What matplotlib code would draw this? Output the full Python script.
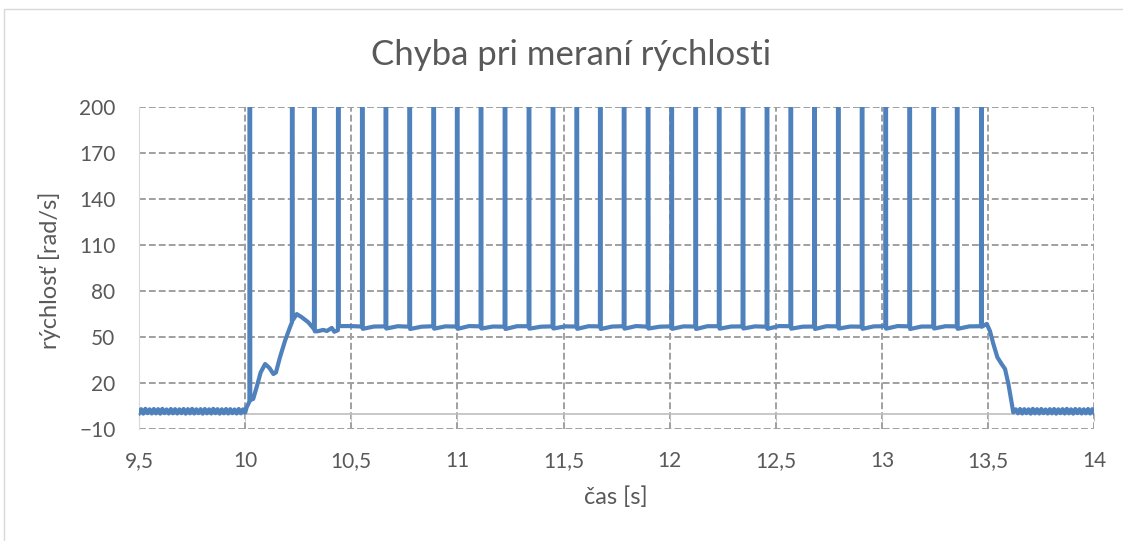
import numpy as np
import matplotlib
matplotlib.use('Agg')
import matplotlib.pyplot as plt
from matplotlib.ticker import FuncFormatter
from matplotlib.patches import Rectangle

plt.rcParams['font.family'] = ['Lato', 'DejaVu Sans']

## values
# flat part before the start (t = 9.50 ... 9.99, step 0.01)
pre_v = [0.4, 3.1, 0.2, 3.3, 0.5, 3.0, 0.3, 3.2, 0.4, 3.1,
         0.2, 3.3, 0.5, 2.9, 0.3, 3.2, 0.4, 3.1, 0.3, 3.0,
         0.5, 3.2, 0.2, 3.1, 0.4, 3.3, 0.3, 3.0, 0.5, 3.1,
         0.2, 3.2, 0.4, 3.0, 0.3, 3.3, 0.5, 3.1, 0.2, 3.0,
         0.4, 3.2, 0.3, 3.1, 0.5, 2.9, 0.3, 3.2, 0.4, 3.0]

# run-up
ramp_t = [10.000, 10.007, 10.038, 10.054, 10.073, 10.094, 10.114, 10.133, 10.145, 10.164,
          10.188, 10.211, 10.243, 10.266, 10.297, 10.340, 10.368, 10.385, 10.408, 10.420]
ramp_v = [0.8, 4.3, 9.8, 17.4, 27.0, 32.5, 30.0, 26.0, 27.0, 36.9,
          47.7, 56.4, 65.0, 63.0, 59.7, 53.8, 54.7, 54.0, 56.0, 53.5]

# steady speed between the spikes
mid_t = [10.495, 10.607, 10.719, 10.831, 10.943, 11.055, 11.167, 11.280, 11.393, 11.506,
         11.617, 11.729, 11.841, 11.953, 12.065, 12.177, 12.289, 12.401, 12.514, 12.626,
         12.738, 12.850, 12.961, 13.073, 13.186, 13.298, 13.411]
mid_v = [57.2, 56.9, 57.1, 56.8, 57.0, 57.2, 56.9, 57.1, 56.8, 57.0,
         57.1, 56.9, 57.2, 56.8, 57.0, 57.1, 56.9, 57.0, 57.2, 56.8,
         57.1, 56.9, 57.0, 57.2, 56.9, 57.1, 57.0]

# measurement errors (spikes), foot value before and after
spike_t = [10.022, 10.222, 10.326, 10.439, 10.552, 10.663, 10.775, 10.888, 10.999, 11.111,
           11.224, 11.337, 11.450, 11.562, 11.673, 11.785, 11.898, 12.009, 12.122, 12.233,
           12.345, 12.458, 12.570, 12.682, 12.794, 12.906, 13.017, 13.130, 13.243, 13.354,
           13.468]
spike_base = [8.0, 59.5, 55.3, 54.5, 56.9, 57.0, 56.8, 57.1, 56.9, 57.0,
              56.8, 57.1, 57.0, 56.9, 57.0, 57.1, 56.8, 57.0, 56.9, 57.1,
              57.0, 56.8, 57.1, 56.9, 57.0, 56.8, 57.1, 57.0, 56.9, 57.0,
              57.1]
spike_dip = [9.0, 61.0, 53.8, 57.2, 55.4, 55.6, 55.3, 55.5, 55.4, 55.6,
             55.3, 55.5, 55.6, 55.4, 55.3, 55.5, 55.6, 55.4, 55.3, 55.5,
             55.6, 55.4, 55.5, 55.3, 55.6, 55.4, 55.5, 55.3, 55.6, 55.4,
             56.8]
spike_top = 1000.0

# run-down
down_t = [13.493, 13.508, 13.524, 13.543, 13.563, 13.579, 13.595, 13.611, 13.618]
down_v = [58.6, 54.0, 45.6, 36.9, 32.5, 29.3, 19.5, 6.5, 1.0]

# flat part after the stop (t = 13.63 ... 14.00, step 0.01)
post_v = [3.0, 0.4, 3.2, 0.3, 3.1, 0.5, 3.0, 0.2, 3.3, 0.4,
          3.1, 0.3, 3.2, 0.5, 2.9, 0.3, 3.1, 0.4, 3.2, 0.2,
          3.0, 0.5, 3.1, 0.3, 3.3, 0.4, 3.0, 0.2, 3.2, 0.5,
          3.1, 0.3, 3.0, 0.4, 3.2, 0.3, 3.1, 0.5]

x_ticks = [9.5, 10, 10.5, 11, 11.5, 12, 12.5, 13, 13.5, 14]
y_ticks = [-10, 20, 50, 80, 110, 140, 170, 200]

## put the series together
pre_t = np.round(np.arange(9.50, 9.995, 0.01), 3)
post_t = np.round(np.arange(13.63, 14.0001, 0.01), 3)
t = list(pre_t) + ramp_t + mid_t + down_t + list(post_t)
v = pre_v + ramp_v + mid_v + down_v + post_v
for ts, b, d in zip(spike_t, spike_base, spike_dip):
    t += [ts - 0.002, ts, ts + 0.002]
    v += [b, spike_top, d]
order = np.argsort(t, kind='stable')
t = np.array(t)[order]
v = np.array(v)[order]

## plot
grey = '#595959'
fig = plt.figure(figsize=(11.23, 5.41), dpi=100)
fig.patches.append(Rectangle((4/1123, -0.1), 1.2, 1.1 - 9/541, transform=fig.transFigure,
                             fill=False, edgecolor='#d9d9d9', linewidth=1))
ax = fig.add_axes([139/1123, 1 - 429.3/541, (1094.4 - 139)/1123, (429.3 - 106.7)/541])

ax.plot(t, v, color='#4f81bd', linewidth=3.0, solid_joinstyle='round', zorder=3)

ax.set_xlim(9.5, 14)
ax.set_ylim(-10, 200)
ax.set_xticks(x_ticks)
ax.set_yticks(y_ticks)
ax.xaxis.set_major_formatter(FuncFormatter(lambda x, p: f'{x:g}'.replace('.', ',')))
ax.grid(True, color='#a0a0a0', linestyle=(0, (3.5, 1.6)), linewidth=1.4, zorder=1)

for s in ['top', 'right']:
    ax.spines[s].set_visible(False)
ax.spines['left'].set_color('#d9d9d9')
ax.spines['bottom'].set_position(('data', 0))
ax.spines['bottom'].set_color('#bfbfbf')
ax.spines['bottom'].set_linewidth(1.2)
ax.tick_params(axis='x', direction='out', length=5, color='#bfbfbf', pad=22,
               labelsize=15, labelcolor=grey)
ax.tick_params(axis='y', length=0, pad=17, labelsize=15, labelcolor=grey)

fig.text(571/1123, 1 - 55/541, 'Chyba pri meraní rýchlosti', fontsize=25, color=grey,
         ha='center', va='center')
fig.text(616/1123, 1 - 497/541, 'čas [s]', fontsize=17, color=grey, ha='center', va='center')
fig.text(50/1123, 1 - 270/541, 'rýchlosť [rad/s]', fontsize=17, color=grey,
         ha='center', va='center', rotation=90)

fig.savefig('out.png', dpi=100)
